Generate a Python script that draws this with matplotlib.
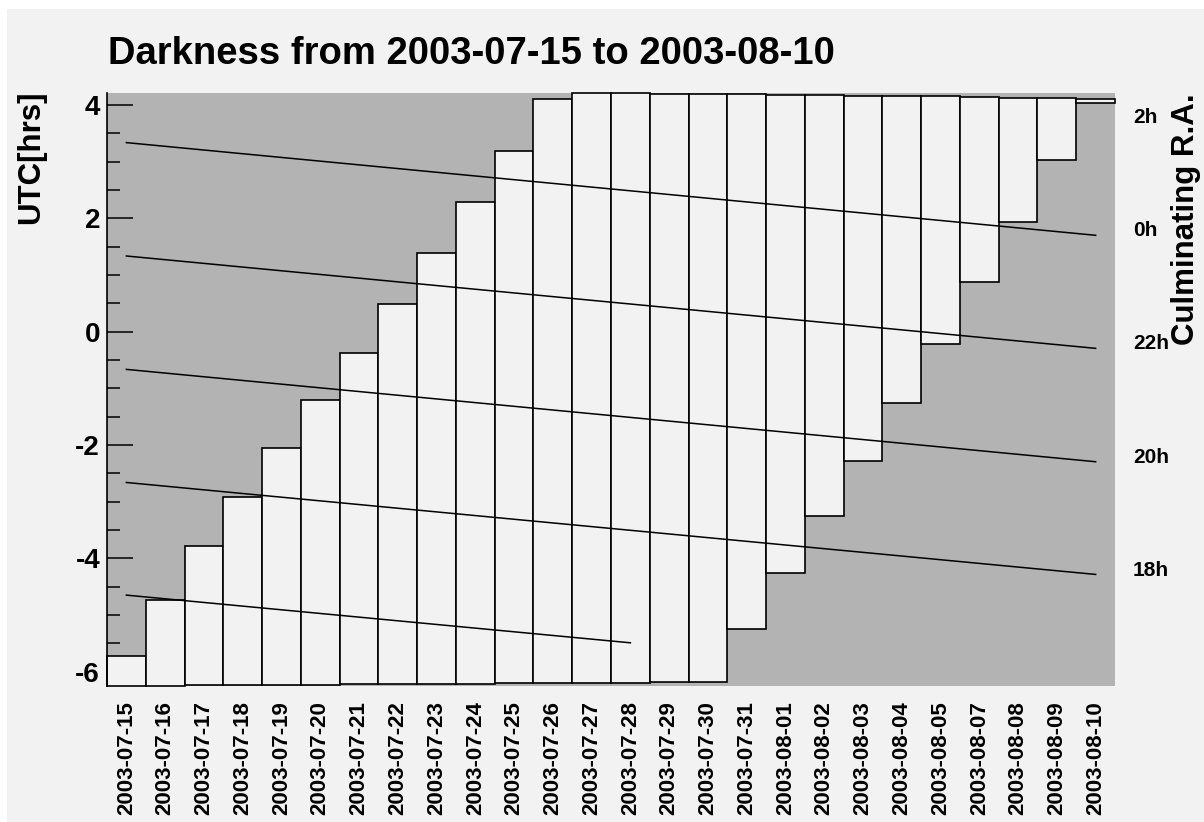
import numpy as np
import matplotlib
matplotlib.use('Agg')
import matplotlib.pyplot as plt
from matplotlib.patches import Rectangle
from matplotlib.ticker import MultipleLocator

plt.rcParams['font.family'] = ['Liberation Sans', 'DejaVu Sans']
plt.rcParams['font.weight'] = 'bold'
plt.rcParams['axes.unicode_minus'] = False

## Nightly darkness window (UTC hours), one bin per date
dates = ['2003-07-15', '2003-07-16', '2003-07-17', '2003-07-18', '2003-07-19',
         '2003-07-20', '2003-07-21', '2003-07-22', '2003-07-23', '2003-07-24',
         '2003-07-25', '2003-07-26', '2003-07-27', '2003-07-28', '2003-07-29',
         '2003-07-30', '2003-07-31', '2003-08-01', '2003-08-02', '2003-08-03',
         '2003-08-04', '2003-08-05', '2003-08-07', '2003-08-08', '2003-08-09',
         '2003-08-10']
dark_start = [-6.25, -6.25, -6.24, -6.24, -6.23, -6.23, -6.22, -6.22, -6.21, -6.21,
              -6.20, -6.20, -6.19, -6.19, -6.18, -6.18, -5.24, -4.25, -3.25, -2.28,
              -1.25, -0.22, 0.88, 1.94, 3.03, 4.03]
dark_end = [-5.72, -4.74, -3.78, -2.91, -2.06, -1.21, -0.37, 0.48, 1.38, 2.28,
            3.19, 4.11, 4.21, 4.205, 4.20, 4.20, 4.19, 4.18, 4.17, 4.165,
            4.16, 4.15, 4.135, 4.13, 4.12, 4.105]

# culmination lines: value at first bin, value at last bin, index of last bin
ra_start = [3.335, 1.335, -0.665, -2.66, -4.647]
ra_end = [1.70, -0.294, -2.294, -4.282, -5.488]
ra_last = [25, 25, 25, 25, 13]

# right-hand R.A. scale
ra_labels = ['2h', '0h', '22h', '20h', '18h']
ra_pos = [3.82, 1.82, -0.18, -2.18, -4.18]

x = np.arange(len(dates))
start = np.array(dark_start)
end = np.array(dark_end)

fig = plt.figure(figsize=(12.04, 8.22), dpi=100, facecolor='white')
fig.patches.append(Rectangle((7/1204, -1), 2, 2 - 9/822, transform=fig.transFigure,
                             facecolor='#f2f2f2', edgecolor='none', zorder=-10))

ax = fig.add_axes([107/1204, 1 - 686/822, (1115-107)/1204, (686-93)/822])
ax.set_facecolor('#b3b3b3')

ax.bar(x, end - start, bottom=start, width=1.0, color='#f2f2f2',
       edgecolor='black', linewidth=1.2, zorder=2, clip_on=False)

for s, e, last in zip(ra_start, ra_end, ra_last):
    ax.plot([0, last], [s, e], color='black', linewidth=1.1, zorder=3)

ax.set_xlim(-0.5, len(dates) - 0.5)
ax.set_ylim(-6.25, 4.21)

for side in ['top', 'right', 'bottom']:
    ax.spines[side].set_visible(False)
ax.spines['left'].set_linewidth(1.2)
ax.spines['left'].set_zorder(4)

ax.yaxis.set_major_locator(MultipleLocator(2))
ax.yaxis.set_minor_locator(MultipleLocator(0.5))
ax.tick_params(axis='y', which='major', direction='in', length=19, width=1.1,
               labelsize=20, pad=5)
ax.tick_params(axis='y', which='minor', direction='in', length=9.5, width=1.1)
ax.set_xticks(x)
ax.set_xticklabels(dates, rotation=90, fontsize=16, fontweight='bold')
ax.tick_params(axis='x', length=0, pad=11)
for lab in ax.get_yticklabels():
    lab.set_fontweight('bold')

ax2 = ax.twinx()
ax2.set_ylim(ax.get_ylim())
ax2.set_yticks(ra_pos)
ax2.set_yticklabels(ra_labels, fontsize=15, fontweight='bold')
ax2.tick_params(axis='y', length=0, pad=13)
for side in ['top', 'right', 'bottom', 'left']:
    ax2.spines[side].set_visible(False)

fig.text(108/1204, 1 - 64/822, 'Darkness from 2003-07-15 to 2003-08-10',
         fontsize=27.5, fontweight='bold', ha='left', va='baseline')
fig.text(31/1204, 1 - 90/822, 'UTC[hrs]', fontsize=22.5, fontweight='bold',
         rotation=90, ha='center', va='top')
fig.text(1186/1204, 1 - 93/822, 'Culminating R.A.', fontsize=22.5, fontweight='bold',
         rotation=90, ha='center', va='top')

fig.savefig('out.png', dpi=100, facecolor=fig.get_facecolor())
